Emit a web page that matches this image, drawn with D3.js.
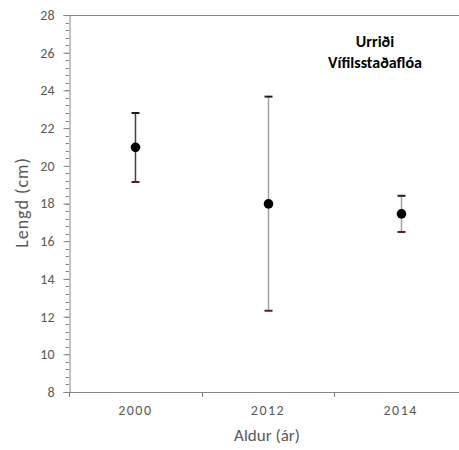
<!DOCTYPE html>
<html><head><meta charset="utf-8">
<script src="https://cdn.jsdelivr.net/npm/d3@7"></script>
<style>body{margin:0;background:#fff}svg{display:block}text{font-family:Carlito,Calibri,Lato,"Open Sans",sans-serif}</style>
</head><body>
<svg id="c" width="459" height="450"></svg>
<script>
const categories = ["2000", "2012", "2014"];
const means = [20.98, 17.98, 17.45];
const upper = [22.80, 23.67, 18.41];
const lower = [19.14, 12.31, 16.49];
const yTicks = [8, 10, 12, 14, 16, 18, 20, 22, 24, 26, 28];
const title = ["Urriði", "Vífilsstaðaflóa"];

const svg = d3.select("#c");
const pL = 69, pR = 467, pT = 15, pB = 392;
const x = d3.scaleBand().domain(categories).range([pL, pR]);
const y = d3.scaleLinear().domain([8, 28]).range([pB, pT]);
const axisCol = "#868686", textCol = "#595959";

// top border line
svg.append("line").attr("x1", pL).attr("x2", pR).attr("y1", pT + 0.5).attr("y2", pT + 0.5)
  .attr("stroke", axisCol).attr("stroke-width", 1);

// y minor ticks
const minor = d3.range(8, 28.001, 0.4);
svg.append("g").selectAll("line").data(minor).join("line")
  .attr("x1", pL - 3.5).attr("x2", pL).attr("y1", d => Math.round(y(d)) + 0.5).attr("y2", d => Math.round(y(d)) + 0.5)
  .attr("stroke", axisCol);

// y axis
const yAxis = svg.append("g").attr("transform", `translate(${pL + 0.5},0)`)
  .call(d3.axisLeft(y).tickValues(yTicks).tickSize(6).tickPadding(9).tickFormat(d3.format("d")));
yAxis.select(".domain").attr("stroke", axisCol);
yAxis.selectAll(".tick line").attr("stroke", axisCol);
yAxis.selectAll(".tick text").attr("fill", textCol).style("font-size", "14px");

// x axis
const xAxis = svg.append("g").attr("transform", `translate(0,${pB + 0.5})`)
  .call(d3.axisBottom(x).tickSize(0).tickPadding(13));
xAxis.select(".domain").attr("stroke", axisCol).attr("d", `M${pL},0H${pR}`);
xAxis.selectAll(".tick text").attr("fill", textCol).style("font-size", "14px").style("letter-spacing", "1.5px");
svg.append("g").selectAll("line").data(categories).join("line")
  .attr("x1", d => Math.round(x(d)) + 0.5).attr("x2", d => Math.round(x(d)) + 0.5)
  .attr("y1", pB).attr("y2", pB + 5).attr("stroke", axisCol);

// axis titles
svg.append("text").attr("x", 267).attr("y", 441).attr("text-anchor", "middle")
  .attr("fill", textCol).style("font-size", "17px").text("Aldur (ár)");
svg.append("text").attr("transform", `translate(28,${(pT + pB) / 2 - 1}) rotate(-90)`)
  .attr("text-anchor", "middle").attr("fill", textCol).style("font-size", "18px")
  .style("letter-spacing", "1px").text("Lengd (cm)");

// error bars
const data = categories.map((c, i) => ({c, m: means[i], hi: upper[i], lo: lower[i], i}));
const cx = d => Math.round(x(d.c) + x.bandwidth() / 2) + 0.5;
const stemCols = ["#404040", "#a0a0a0", "#a0a0a0"];
const g = svg.append("g");
g.selectAll(".stem").data(data).join("line")
  .attr("x1", cx).attr("x2", cx).attr("y1", d => y(d.hi)).attr("y2", d => y(d.lo))
  .attr("stroke", d => stemCols[d.i]).attr("stroke-width", 1.5);
g.selectAll(".capHi").data(data).join("line")
  .attr("x1", d => cx(d) - 4).attr("x2", d => cx(d) + 4).attr("y1", d => y(d.hi)).attr("y2", d => y(d.hi))
  .attr("stroke", "#1c1c28").attr("stroke-width", 2);
g.selectAll(".capLo").data(data).join("line")
  .attr("x1", d => cx(d) - 4).attr("x2", d => cx(d) + 4).attr("y1", d => y(d.lo)).attr("y2", d => y(d.lo))
  .attr("stroke", "#4a2424").attr("stroke-width", 2);
g.selectAll("circle").data(data).join("circle")
  .attr("cx", cx).attr("cy", d => y(d.m)).attr("r", 4.8).attr("fill", "#000");

// title
svg.append("text").attr("x", 375).attr("y", 47).attr("text-anchor", "middle")
  .style("font-size", "16px").style("font-weight", "bold").attr("fill", "#000").text(title[0]);
svg.append("text").attr("x", 375).attr("y", 68).attr("text-anchor", "middle")
  .style("font-size", "16px").style("font-weight", "bold").attr("fill", "#000").text(title[1]);
</script>
</body></html>
